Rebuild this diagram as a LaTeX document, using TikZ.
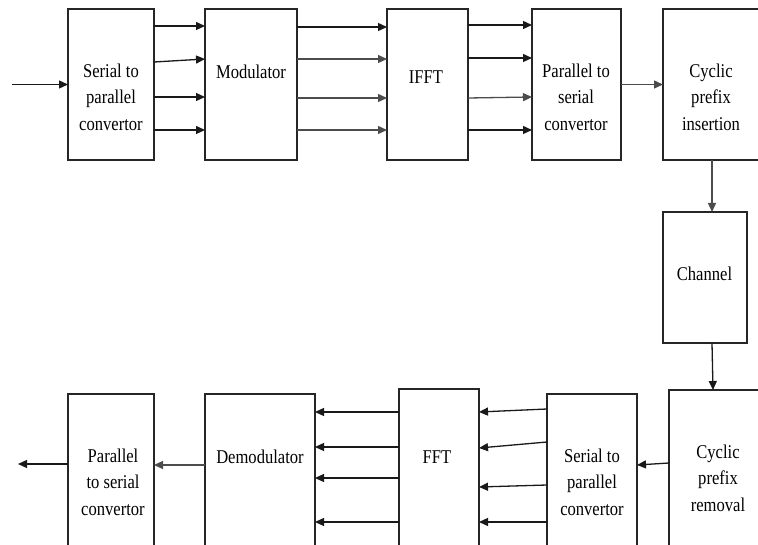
\documentclass[tikz,border=0pt]{standalone}
\usepackage{fontspec}
\setmainfont[FakeStretch=0.85]{Liberation Serif}
\usetikzlibrary{arrows.meta}
\tikzset{
  blk/.style={draw=black!85, line width=1.2pt, minimum width=#1, inner sep=0pt, outer sep=0pt},
  lbl/.style={align=center, font=\fontsize{19.5}{26.5}\selectfont, inner sep=0pt, text=black},
  arr/.style={draw=black!90, line width=1.3pt, -{Triangle[length=9pt,width=8pt]}},
  garr/.style={arr, draw=black!70}
}
\begin{document}
\begin{tikzpicture}[x=1pt,y=-1pt]
\useasboundingbox (0,0) rectangle (758,545);
\clip (0,0) rectangle (758,545);
\fill[white] (0,0) rectangle (758,545);
% top row boxes (top y=9, bottom y=160)
\node[blk=86pt, minimum height=151pt] (s2p) at (111,84.5) {};
\node[blk=92pt, minimum height=151pt] (mod) at (251,84.5) {};
\node[blk=81pt, minimum height=151pt] (ifft) at (427.5,84.5) {};
\node[blk=89pt, minimum height=151pt] (p2s) at (576.5,84.5) {};
\node[blk=120pt, minimum height=151pt] (cpi) at (723,84.5) {};
% channel
\node[blk=84pt, minimum height=131pt] (ch) at (705,277.5) {};
% bottom row boxes (extend beyond bottom)
\node[blk=110pt, minimum height=171pt] (rem) at (724,475.5) {};
\node[blk=90pt, minimum height=166pt] (s2pb) at (592,477) {};
\node[blk=80pt, minimum height=171pt] (fft) at (439,474.5) {};
\node[blk=110pt, minimum height=166pt] (demod) at (260,477) {};
\node[blk=86pt, minimum height=166pt] (p2sb) at (111,477) {};
% labels
\node[lbl] (t1) at (111,97) {Serial to\\parallel\\convertor};
\node[lbl] (t2) at (251,72) {Modulator};
\node[lbl] (t3) at (426,77) {IFFT};
\node[lbl] (t4) at (576,97) {Parallel to\\serial\\convertor};
\node[lbl] (t5) at (711,97) {Cyclic\\prefix\\insertion};
\node[lbl] (t6) at (704.5,274) {Channel};
\node[lbl] (t7) at (718,478) {Cyclic\\prefix\\removal};
\node[lbl] (t8) at (592,482) {Serial to\\parallel\\convertor};
\node[lbl] (t9) at (437,457) {FFT};
\node[lbl] (t10) at (260,457) {Demodulator};
\node[lbl] (t11) at (113,482) {Parallel\\to serial\\convertor};
% input / output
\coordinate (in) at (12,84.5);
\coordinate (out) at (18,464);
\draw[arr] (in) -- (s2p.west);
% s2p -> mod
\draw[arr] ([yshift=-17pt]s2p.north east) -- ([yshift=-17pt]mod.north west);
\draw[arr] ([yshift=-53pt]s2p.north east) -- ([yshift=-50pt]mod.north west);
\draw[arr] ([yshift=-88pt]s2p.north east) -- ([yshift=-88pt]mod.north west);
\draw[arr] ([yshift=-121pt]s2p.north east) -- ([yshift=-121pt]mod.north west);
% mod -> ifft
\draw[arr] ([yshift=-18pt]mod.north east) -- ([yshift=-18pt]ifft.north west);
\draw[garr] ([yshift=-50pt]mod.north east) -- ([yshift=-50pt]ifft.north west);
\draw[garr] ([yshift=-89pt]mod.north east) -- ([yshift=-89pt]ifft.north west);
\draw[garr] ([yshift=-121pt]mod.north east) -- ([yshift=-121pt]ifft.north west);
% ifft -> p2s
\draw[arr] ([yshift=-16pt]ifft.north east) -- ([yshift=-16pt]p2s.north west);
\draw[arr] ([yshift=-49pt]ifft.north east) -- ([yshift=-49pt]p2s.north west);
\draw[garr] ([yshift=-89pt]ifft.north east) -- ([yshift=-88pt]p2s.north west);
\draw[arr] ([yshift=-121pt]ifft.north east) -- ([yshift=-121pt]p2s.north west);
% p2s -> cpi
\draw[garr] (p2s.east) -- (cpi.west);
% cpi -> channel -> removal
\draw[garr] ([xshift=49pt]cpi.south west) -- ([xshift=49pt]ch.north west);
\draw[arr] ([xshift=49pt]ch.south west) -- ([xshift=44pt]rem.north west);
% removal -> s2pb
\draw[arr] ([yshift=-73pt]rem.north west) -- ([yshift=-71pt]s2pb.north east);
% s2pb -> fft
\draw[arr] ([yshift=-15pt]s2pb.north west) -- ([yshift=-23pt]fft.north east);
\draw[arr] ([yshift=-48pt]s2pb.north west) -- ([yshift=-59pt]fft.north east);
\draw[arr] ([yshift=-91pt]s2pb.north west) -- ([yshift=-98pt]fft.north east);
\draw[arr] ([yshift=-128pt]s2pb.north west) -- ([yshift=-133pt]fft.north east);
% fft -> demod
\draw[arr] ([yshift=-23pt]fft.north west) -- ([yshift=-18pt]demod.north east);
\draw[arr] ([yshift=-58pt]fft.north west) -- ([yshift=-53pt]demod.north east);
\draw[arr] ([yshift=-89pt]fft.north west) -- ([yshift=-84pt]demod.north east);
\draw[arr] ([yshift=-133pt]fft.north west) -- ([yshift=-128pt]demod.north east);
% demod -> p2sb -> out
\draw[garr] ([yshift=-71pt]demod.north west) -- ([yshift=-71pt]p2sb.north east);
\draw[arr] ([yshift=-70pt]p2sb.north west) -- (out);
\end{tikzpicture}
\end{document}
